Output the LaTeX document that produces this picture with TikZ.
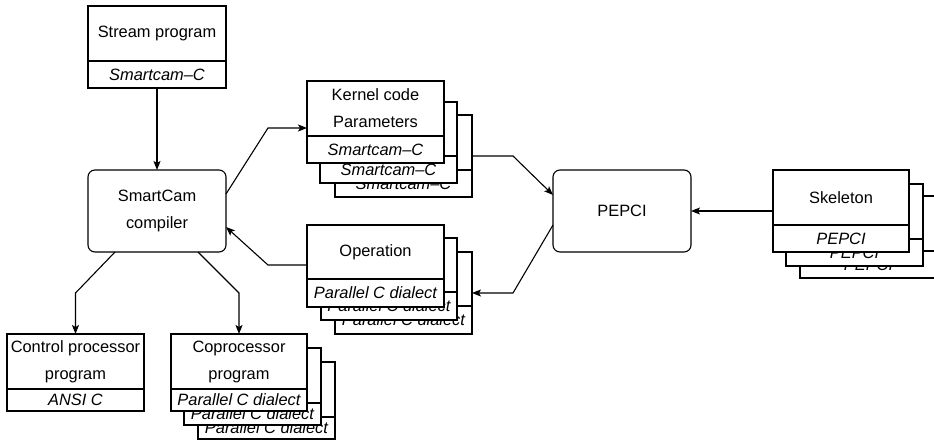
\documentclass[tikz,border=0pt]{standalone}
\usepackage{fontspec}
\setmainfont{Liberation Sans}
\usetikzlibrary{arrows.meta}
\newcommand\fsz{\fontsize{16.4}{27}\selectfont}
\newcommand\twobox[8]{%
  \node[part, minimum width=#4pt, minimum height=#5pt, anchor=north west] (#1t) at (#2,#3) {#7};
  \node[part, minimum width=#4pt, minimum height=#6pt, anchor=north, font={\fsz\itshape}] (#1b) at (#1t.south) {#8};
}
\tikzset{
  every node/.style={font=\fsz},
  part/.style={draw, fill=white, line width=1.1pt, inner sep=0pt, outer sep=0pt, align=center},
  rbox/.style={draw, fill=white, line width=1.1pt, rounded corners=7pt, inner sep=0pt, outer sep=0pt,
    minimum width=138pt, minimum height=82pt, align=center},
  arr/.style={line width=1.1pt, -{Stealth[length=9pt,width=7pt,inset=2pt]}},
}
\begin{document}
\begin{tikzpicture}[x=1pt,y=-1pt]
\useasboundingbox (0,0) rectangle (934,444);
% stream program
\twobox{st}{88}{6}{138}{55}{27}{Stream program}{Smartcam–C}
% compiler
\node[rbox] (sc) at (157,211) {SmartCam\\compiler};
% PEPCI
\node[rbox] (pe) at (622,211) {PEPCI};
% kernel stack
\twobox{kc}{335}{115}{137}{55}{27}{}{Smartcam–C}
\twobox{kb}{320}{102}{137}{54}{27}{}{Smartcam–C}
\twobox{ka}{307}{81}{137}{55}{27}{Kernel code\\Parameters}{Smartcam–C}
% operation stack
\twobox{oc}{335}{252}{137}{54}{28}{}{Parallel C dialect}
\twobox{ob}{321}{238}{136}{54}{28}{}{Parallel C dialect}
\twobox{oa}{307}{225}{137}{54}{28}{Operation}{Parallel C dialect}
% skeleton stack
\twobox{sk3}{800}{196}{137}{55}{27}{}{PEPCI}
\twobox{sk2}{786}{184}{137}{55}{27}{}{PEPCI}
\twobox{sk1}{773}{170}{136}{55}{27}{Skeleton}{PEPCI}
% control processor
\twobox{ct}{7}{334}{137}{55}{22}{Control processor\\program}{ANSI C}
% coprocessor stack
\twobox{cc}{198}{362}{137}{55}{22}{}{Parallel C dialect}
\twobox{cb}{184}{348}{137}{55}{22}{}{Parallel C dialect}
\twobox{ca}{171}{334}{136}{55}{22}{Coprocessor\\program}{Parallel C dialect}
% connectors
\draw[arr] (stb.south) -- (sc.north);
\draw[arr] ([yshift=17pt]sc.east) -- ([xshift=-39pt,yshift=-19.5pt]kat.west) -- ([yshift=-19.5pt]kat.west);
\draw[arr] ([yshift=-13pt]oat.west) -- ([xshift=-39pt,yshift=-13pt]oat.west) -- ([yshift=-16pt]sc.east);
\draw[arr] ([yshift=-13.5pt]kct.east) -- ([xshift=41pt,yshift=-13.5pt]kct.east) -- ([yshift=16pt]pe.west);
\draw[arr] ([yshift=-14pt]pe.west) -- ([xshift=41pt,yshift=-14pt]oct.east) -- ([yshift=-14pt]oct.east);
\draw[arr] ([yshift=-13.5pt]sk1t.west) -- (pe.east);
\draw[arr] ([xshift=-42pt]sc.south) -- ([yshift=41pt]ctt.north) -- (ctt.north);
\draw[arr] ([xshift=41pt]sc.south) -- ([yshift=41pt]cat.north) -- (cat.north);
\end{tikzpicture}
\end{document}
